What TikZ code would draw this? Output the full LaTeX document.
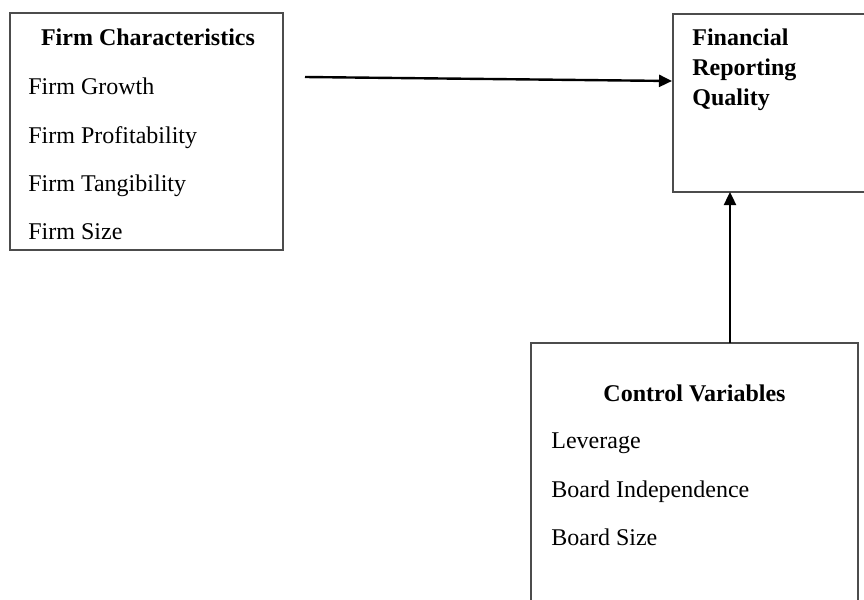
\documentclass[tikz,border=0pt]{standalone}
\usepackage{fontspec}
\setmainfont{Liberation Serif}
\usetikzlibrary{arrows.meta}

\begin{document}
\begin{tikzpicture}[x=0.5pt,y=-0.5pt,>={Triangle[length=6.5pt,width=6pt]},
    font=\fontsize{12}{14}\selectfont,
    box/.style={draw=black!70,line width=0.75pt,inner sep=0pt,outer sep=0pt},
    head/.style={font=\fontsize{12}{14}\selectfont\bfseries,anchor=base,inner sep=0pt},
    item/.style={anchor=base west,inner sep=0pt},
    link/.style={->,line width=1.2pt}]
    \useasboundingbox (0,0) rectangle (864,600);
    \clip (0,0) rectangle (864,600);
    % boxes
    \node[box,minimum width=136.5pt,minimum height=118.5pt] (firm) at (146.5,131.5) {};
    \node[box,minimum width=103.5pt,minimum height=89pt] (frq) at (776.5,103) {};
    \node[box,minimum width=163.5pt,minimum height=138.5pt] (ctrl) at (694.5,481.5) {};
    % firm characteristics
    \node[head] (firmhead) at (148,45) {Firm Characteristics};
    \node[item] (growth) at (28,94) {Firm Growth};
    \node[item] (profit) at (28,143) {Firm Profitability};
    \node[item] (tang) at (28,191) {Firm Tangibility};
    \node[item] (fsize) at (28,239) {Firm Size};
    % financial reporting quality
    \node[head,anchor=base west] (frq1) at (692,45) {Financial};
    \node[head,anchor=base west] (frq2) at (692,75) {Reporting};
    \node[head,anchor=base west] (frq3) at (692,105) {Quality};
    % control variables
    \node[head] (ctrlhead) at (694.5,401) {Control Variables};
    \node[item] (lev) at (551,448) {Leverage};
    \node[item] (indep) at (551,497) {Board Independence};
    \node[item] (bsize) at (551,545) {Board Size};
    % arrows
    \coordinate (fcout) at (305,77);
    \coordinate (frqin) at (672,81);
    \draw[link] (fcout) -- (frqin);
    \coordinate (cvout) at (730,343);
    \draw[link] (cvout) -- (cvout |- frq.south);
\end{tikzpicture}
\end{document}
